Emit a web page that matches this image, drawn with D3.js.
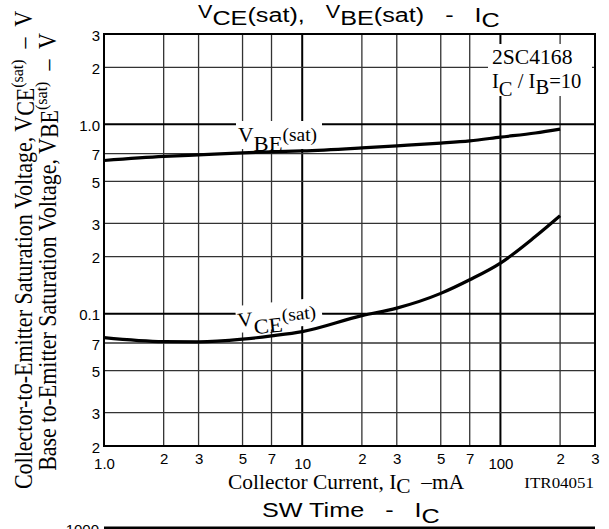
<!DOCTYPE html>
<html><head><meta charset="utf-8">
<script src="https://cdn.jsdelivr.net/npm/d3@7"></script>
<style>
html,body{margin:0;padding:0;background:#fff;}
text{white-space:pre;}
</style></head><body>
<svg id="chart" width="609" height="529"></svg>
<script>
// ---- data ----
const currentTicks = [1,2,3,5,7,10,20,30,50,70,100,200,300];
const currentTickLabels = ["1.0","2","3","5","7","10","2","3","5","7","100","2","3"];
const voltageTicks = [3,2,1,0.7,0.5,0.3,0.2,0.1,0.07,0.05,0.03,0.02];
const voltageTickLabels = ["3","2","1.0","7","5","3","2","0.1","7","5","3","2"];
const majorCurrent = [10,100];
const majorVoltage = [1,0.1];
const icValues = [1,2,3,5,7,10,20,30,50,70,100,150,200];
const vbeSat = [0.644,0.677,0.690,0.707,0.716,0.724,0.751,0.770,0.796,0.818,0.856,0.900,0.943];
const vceSat = [0.0748,0.0712,0.0710,0.0733,0.0763,0.0804,0.0977,0.107,0.128,0.151,0.185,0.2555,0.329];
const nextChartTopTick = "1000";

// ---- layout ----
const svg = d3.select("#chart");
const L = 104, R = 595, T = 34, B = 446;
const x = d3.scaleLog().domain([1,300]).range([L,R]);
const y = d3.scaleLog().domain([0.02,3]).range([B,T]);
const serif = "'Liberation Serif','Times New Roman',serif";
const sans = "'Liberation Sans',Arial,sans-serif";

function rich(parent, px, py, parts, opt) {
  const o = Object.assign({family: serif, sx: 1.0, rotate: 0, anchor: "start", pre: ""}, opt);
  const tr = o.pre || `translate(${px},${py}) rotate(${o.rotate}) scale(${o.sx},1)`;
  const t = parent.append("text").attr("transform", tr)
    .attr("font-family", o.family).attr("text-anchor", o.anchor).attr("fill", "#000");
  let prev = 0;
  parts.forEach(p => {
    t.append("tspan").attr("font-size", p.size).attr("dy", (p.shift||0) - prev).text(p.t);
    prev = p.shift||0;
  });
  return t;
}

// grid
const grid = svg.append("g");
currentTicks.filter(d => d > 1 && d < 300).forEach(d => {
  const major = majorCurrent.includes(d);
  grid.append("line").attr("x1", x(d)).attr("x2", x(d)).attr("y1", T).attr("y2", B)
    .attr("stroke", major ? "#000" : "#333").attr("stroke-width", major ? 2 : 1.3);
});
voltageTicks.filter(d => d > 0.02 && d < 3).forEach(d => {
  const major = majorVoltage.includes(d);
  grid.append("line").attr("x1", L).attr("x2", R).attr("y1", y(d)).attr("y2", y(d))
    .attr("stroke", major ? "#000" : "#333").attr("stroke-width", major ? 2 : 1.3);
});

// label backgrounds
svg.append("rect").attr("x", 488).attr("y", 44).attr("width", 104).attr("height", 52).attr("fill", "#fff");
svg.append("rect").attr("x", 236).attr("y", 121).attr("width", 86).attr("height", 28).attr("fill", "#fff");
svg.append("rect").attr("transform", "translate(238,327) rotate(-6)")
  .attr("x", -1).attr("y", -21).attr("width", 86).attr("height", 27).attr("fill", "#fff");

// curves
const line = d3.line().x((d,i) => x(icValues[i])).y(d => y(d)).curve(d3.curveMonotoneX);
svg.append("path").datum(vbeSat).attr("d", line).attr("fill", "none").attr("stroke", "#000").attr("stroke-width", 3.2);
svg.append("path").datum(vceSat).attr("d", line).attr("fill", "none").attr("stroke", "#000").attr("stroke-width", 3.2);

// border
svg.append("rect").attr("x", L).attr("y", T).attr("width", R-L).attr("height", B-T)
  .attr("fill", "none").attr("stroke", "#000").attr("stroke-width", 2);

// axes tick labels
const xAxis = svg.append("g").attr("transform", `translate(0,${B})`)
  .call(d3.axisBottom(x).tickValues(currentTicks).tickFormat((d,i) => currentTickLabels[i]).tickSize(0).tickPadding(7));
xAxis.select(".domain").remove();
xAxis.selectAll("text").attr("font-family", sans).attr("font-size", 15).attr("fill", "#000")
  .attr("dy", (d) => [1,10,100].includes(d) ? "1.05em" : "0.71em");

const yAxis = svg.append("g").attr("transform", `translate(${L},0)`)
  .call(d3.axisLeft(y).tickValues(voltageTicks).tickFormat((d,i) => voltageTickLabels[i]).tickSize(0).tickPadding(4));
yAxis.select(".domain").remove();
yAxis.selectAll("text").attr("font-family", sans).attr("font-size", 15).attr("fill", "#000").attr("dy", "0.42em");

// title
rich(svg, 198, 21.5, [
  {t:"V", size:18, shift:-3.5}, {t:"CE", size:21, shift:3.5}, {t:"(sat),   ", size:21, shift:0},
  {t:"V", size:18, shift:-3.5}, {t:"BE", size:21, shift:3.5}, {t:"(sat)   -   ", size:21, shift:0},
  {t:"I", size:21, shift:0}, {t:"C", size:21, shift:5.5}
], {family: sans, sx: 1.2});

// curve labels
rich(svg, 238, 142, [{t:"V", size:20, shift:0}, {t:"BE", size:21, shift:9}, {t:"(sat)", size:18, shift:-1}], {sx:1.08});
rich(svg, 238, 327, [{t:"V", size:20, shift:0}, {t:"CE", size:21, shift:9}, {t:"(sat)", size:18, shift:-1}], {rotate:-6, sx:1.08});

// device note
rich(svg, 492, 64, [{t:"2SC4168", size:21, shift:0}], {sx:1.03});
rich(svg, 492, 88, [{t:"I", size:21, shift:0}, {t:"C", size:21, shift:8}, {t:" / I", size:21, shift:0}, {t:"B", size:21, shift:6}, {t:"=10", size:21, shift:0}], {sx:0.98});

// axis titles
rich(svg, 228, 489, [{t:"Collector Current, I", size:21, shift:0}, {t:"C", size:21, shift:4}, {t:"  –mA", size:21, shift:0}], {sx:1.02});
rich(svg, 594, 488, [{t:"ITR04051", size:15, shift:0}], {anchor:"end", sx:1.13});
rich(svg, 0, 0, [{t:"Collector-to-Emitter Saturation Voltage, V", size:22, shift:0}, {t:"CE", size:22, shift:2}, {t:"(sat)", size:16, shift:-8}, {t:"  –  V", size:22, shift:0}],
  {anchor:"middle", pre:`translate(32,250) scale(1.1,1) rotate(-90)`});
rich(svg, 0, 0, [{t:"Base to-Emitter Saturation Voltage, V", size:22, shift:0}, {t:"BE", size:22, shift:2}, {t:"(sat)", size:16, shift:-8}, {t:"  –  V", size:22, shift:0}],
  {anchor:"middle", pre:`translate(56,252) scale(1.1,1) rotate(-90)`});

// next chart header (cut off at bottom, as in the reference)
rich(svg, 262, 517, [{t:"SW Time   -   ", size:21, shift:0}, {t:"I", size:21, shift:0}, {t:"C", size:21, shift:5.5}], {family: sans, sx: 1.2});
svg.append("line").attr("x1", L).attr("x2", R).attr("y1", 528).attr("y2", 528).attr("stroke", "#000").attr("stroke-width", 3);
svg.append("text").attr("x", 99).attr("y", 535).attr("text-anchor", "end")
  .attr("font-family", sans).attr("font-size", 15).text(nextChartTopTick);
</script>
</body></html>
